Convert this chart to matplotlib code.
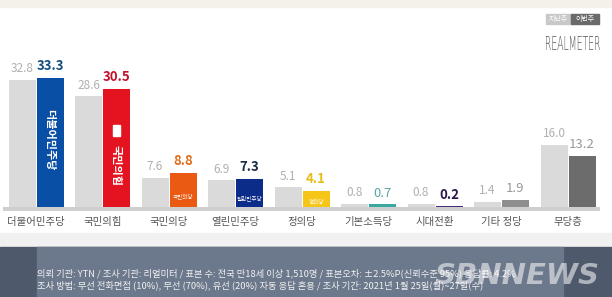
import matplotlib
matplotlib.use("Agg")
import matplotlib.pyplot as plt
from matplotlib.patches import Rectangle, PathPatch
from matplotlib.textpath import TextPath
from matplotlib.font_manager import FontProperties
from matplotlib.transforms import Affine2D, IdentityTransform
import numpy as np

plt.rcParams['font.family'] = ['Noto Sans CJK KR', 'DejaVu Sans']

# data
parties = ['더불어민주당', '국민의힘', '국민의당', '열린민주당', '정의당',
           '기본소득당', '시대전환', '기타 정당', '무당층']
last_week = [32.8, 28.6, 7.6, 6.9, 5.1, 0.8, 0.8, 1.4, 16.0]
this_week = [33.3, 30.5, 8.8, 7.3, 4.1, 0.7, 0.2, 1.9, 13.2]
bar_colors = ['#0a4fa6', '#e3141f', '#ea5a12', '#0c2c8a', '#f5c518',
              '#3aa8a0', '#4a2a78', '#8e8e8e', '#6c6c6c']
label_colors = ['#15507c', '#c4122c', '#e0701e', '#1b2a48', '#e6be1c',
                '#5aa7a4', '#2a1748', '#999999', '#999999']
label_bold = [True, True, True, True, True, False, True, False, False]
logo_text = ['더불어민주당', '국민의힘', '국민의당', '열린민주당', '정의당',
             '', '', '', '']

W, H = 612, 297
fig = plt.figure(figsize=(W / 100, H / 100), dpi=100)
ax = fig.add_axes([0, 0, 1, 1])

# pixel-based layout: category centre px = 36 + 66.5*i, 3.87 px per point
step = 66.5
ppu = 3.87
base_px = 207
ax.set_xlim(-36 / step, (W - 36) / step)
ax.set_ylim(-(H - base_px) / ppu, base_px / ppu)
ax.axis('off')

# backgrounds (figure coords)
fig.patches.append(Rectangle((0, 0), 1, 1, transform=fig.transFigure,
                             color='white', zorder=-10))
fig.patches.append(Rectangle((0, 1 - 7 / H), 1, 7 / H, transform=fig.transFigure,
                             color='#f4f1ea', zorder=-9))
fig.patches.append(Rectangle((0, 50 / H), 1, 14 / H, transform=fig.transFigure,
                             color='#f1f1f1', zorder=-9))
fig.patches.append(Rectangle((0, 0), 1, 50 / H, transform=fig.transFigure,
                             color='#4e596b', zorder=-8))
fig.patches.append(Rectangle((37 / W, 0), (563 - 37) / W, 50 / H,
                             transform=fig.transFigure, color='#6c788b', zorder=-7))

x = np.arange(len(parties))
bw = 27 / step
off = 14 / step

ax.bar(x - off, last_week, width=bw, color='#dadada', zorder=2)
ax.bar(x + off, this_week, width=bw, color=bar_colors, zorder=2)

# baseline shadow
ax.add_patch(Rectangle((-33 / step, -4 / ppu), 597 / step, 4 / ppu,
                       color='#cfcfcf', zorder=3, lw=0))

for i in range(len(parties)):
    ax.text(x[i] - off, last_week[i] + 1.2, f'{last_week[i]:.1f}', ha='center',
            va='bottom', fontsize=8.5, color='#b0b0b0')
    ax.text(x[i] + off, this_week[i] + 1.2, f'{this_week[i]:.1f}', ha='center',
            va='bottom', fontsize=9.5,
            fontweight='bold' if label_bold[i] else 'normal', color=label_colors[i])
    ax.text(x[i], -15 / ppu, parties[i], ha='center', va='center',
            fontsize=7.5, color='#555555')

# logos inside bars
ax.text(x[0] + off, this_week[0] * 0.52, logo_text[0], rotation=-90, ha='center',
        va='center', fontsize=8, color='white', fontweight='bold', zorder=4)
ax.text(x[1] + off, this_week[1] * 0.35, logo_text[1], rotation=-90, ha='center',
        va='center', fontsize=8, color='white', fontweight='bold', zorder=4)
ax.add_patch(Rectangle((x[1] + off - 0.06, 18.3), 0.12, 3.0, color='white', zorder=4))
for i in (2, 3, 4):
    ax.text(x[i] + off, this_week[i] * 0.3, logo_text[i], ha='center', va='center',
            fontsize=4, color='white', zorder=4)

# legend and brand
fig.patches.append(Rectangle((546 / W, 1 - 24 / H), 25 / W, 10 / H,
                             transform=fig.transFigure, color='#c8c8c8'))
fig.patches.append(Rectangle((571 / W, 1 - 24 / H), 28 / W, 10 / H,
                             transform=fig.transFigure, color='#6a6a6a'))
fig.text(558.5 / W, 1 - 19 / H, '지난주', ha='center', va='center', fontsize=5,
         color='white')
fig.text(585 / W, 1 - 19 / H, '이번주', ha='center', va='center', fontsize=5,
         color='white')

# condensed brand name: squeeze a text path into the box the logo occupies
tp = TextPath((0, 0), 'REALMETER', size=20,
              prop=FontProperties(family='DejaVu Sans', weight='light'))
ext = tp.get_extents()
box_x0, box_x1 = 546, 600
box_y0, box_y1 = H - 50, H - 36
sx = (box_x1 - box_x0) / ext.width
sy = (box_y1 - box_y0) / ext.height
tr = Affine2D().translate(-ext.x0, -ext.y0).scale(sx, sy).translate(box_x0, box_y0)
fig.patches.append(PathPatch(tp, transform=tr + IdentityTransform(),
                             facecolor='#555555', edgecolor='none'))

# footer
fig.text(37 / W, 24 / H,
         '의뢰 기관: YTN / 조사 기관: 리얼미터 / 표본 수: 전국 만18세 이상 1,510명 / 표본오차: ±2.5%P(신뢰수준 95%) 응답률: 4.2%',
         fontsize=6.7, color='#f2f2f2', va='center')
fig.text(37 / W, 12 / H,
         '조사 방법: 무선 전화면접 (10%), 무선 (70%), 유선 (20%) 자동 응답 혼용 / 조사 기간: 2021년 1월 25일(월)~27일(수)',
         fontsize=6.7, color='#f2f2f2', va='center')
fig.text(600 / W, 21 / H, 'SBNNEWS', ha='right', va='center', fontsize=21,
         color='white', alpha=0.55, fontweight='bold', fontstyle='italic',
         family='DejaVu Sans')

fig.savefig('out.png', dpi=100)
